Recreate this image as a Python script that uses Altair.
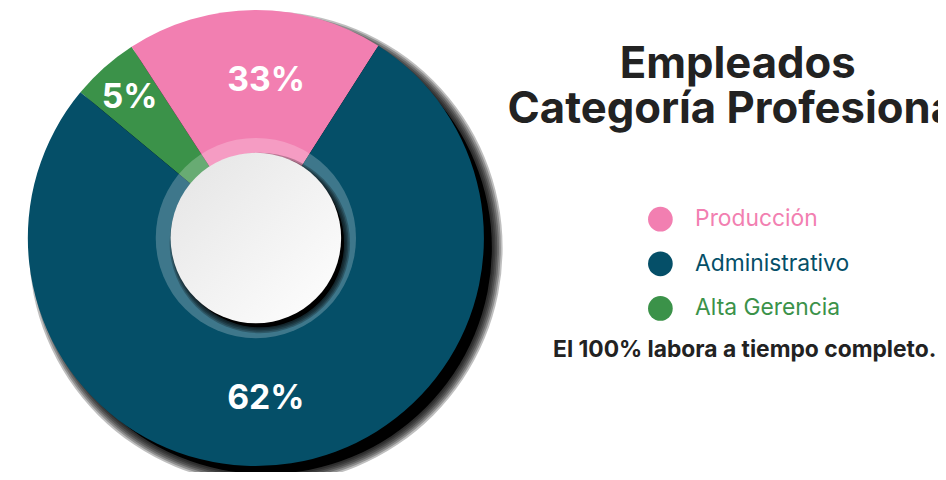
import math
import altair as alt
import pandas as pd

# ---- data ----
categories = ["Producción", "Administrativo", "Alta Gerencia"]      # legend order
colors = ["#F27FB1", "#054F68", "#3B9249"]
slice_order = ["Alta Gerencia", "Producción", "Administrativo"]      # drawing order (clockwise)
slice_shares = [4.8, 18.2, 77.0]                                    # visual share of each slice
slice_labels = ["5%", "33%", "62%"]
title_lines = ["Empleados", "Categoría Profesional"]
footnote = ["El 100% labora a tiempo completo."]

pie = pd.DataFrame({
    "category": slice_order,
    "share": slice_shares,
    "label": slice_labels,
    "ord": list(range(len(slice_order))),
})
legend_df = pd.DataFrame({"category": categories})
one = pd.DataFrame({"a": [0]})

FONT = "Inter"
CX, CY, R = 250, 230, 230
START = math.radians(-50.3)
TAU = 2 * math.pi

theta_scale = alt.Scale(range=[START, START + TAU])
color_scale = alt.Scale(domain=categories, range=colors)


def disc(cx, cy, r, color, opacity=1.0, r0=0):
    return alt.Chart(one).mark_arc(
        x=cx, y=cy, radius=r, radius2=r0, theta=0, theta2=TAU,
        opacity=opacity, strokeWidth=0
    ).encode(color=alt.value(color))


layers = []

# outer drop shadow (soft)
layers.append(disc(CX + 10, CY + 10, 228, "black"))
for k in range(1, 7):
    layers.append(disc(CX + 10, CY + 10, 228 + 1.8 * k, "black", 0.25))

# donut slices
arcs = alt.Chart(pie).mark_arc(x=CX, y=CY, radius=R, strokeWidth=0).encode(
    theta=alt.Theta("share:Q", stack=True, scale=theta_scale),
    order=alt.Order("ord:Q"),
    color=alt.Color("category:N", scale=color_scale, legend=None),
)
layers.append(arcs)

# translucent inner ring
layers.append(disc(CX, CY, 101, "white", 0.23))

# shadow of the white centre disc
layers.append(disc(CX + 4, CY + 5, 85, "black"))
for k in range(1, 5):
    layers.append(disc(CX + 4, CY + 5, 85 + 1.5 * k, "black", 0.25))

# white centre disc with gradient
layers.append(
    alt.Chart(one).mark_arc(
        x=CX, y=CY, radius=86, theta=0, theta2=TAU, strokeWidth=0,
        color=alt.Gradient(
            gradient="linear", x1=0, y1=0, x2=1, y2=1,
            stops=[alt.GradientStop(offset=0, color="#E4E4E4"),
                   alt.GradientStop(offset=1, color="#FFFFFF")],
        ),
    ).encode(opacity=alt.value(1))
)

# percentage labels, one layer per slice so each can be nudged
label_pos = {"Alta Gerencia": (190, -1, 1), "Producción": (160, 11, 2), "Administrativo": (162, -15, 2)}
for cat in slice_order:
    rad, dx, dy = label_pos[cat]
    layers.append(
        alt.Chart(pie).transform_calculate(
            t=f"datum.category == '{cat}' ? datum.label : ''"
        ).mark_text(
            x=CX, y=CY, radius=rad, dx=dx, dy=dy, font=FONT, fontWeight="bold",
            fontSize=34, color="white", baseline="middle", align="center",
        ).encode(
            theta=alt.Theta("share:Q", stack=True, scale=theta_scale),
            order=alt.Order("ord:Q"),
            text="t:N",
        )
    )

# title
title_df = pd.DataFrame({"t": title_lines, "i": [0, 1]})
layers.append(
    alt.Chart(title_df).mark_text(
        font=FONT, fontWeight="bold", fontSize=44, color="#222222",
        align="center", baseline="alphabetic",
    ).encode(
        x=alt.value(736),
        y=alt.Y("i:O", scale=alt.Scale(type="point", domain=[0, 1], range=[69, 114], padding=0), axis=None),
        text="t:N",
    )
)

# legend
legend_y = alt.Y("category:N", scale=alt.Scale(type="point", domain=categories, range=[211, 301], padding=0), axis=None)
layers.append(
    alt.Chart(legend_df).mark_circle(size=620, opacity=1).encode(
        x=alt.value(658), y=legend_y,
        color=alt.Color("category:N", scale=color_scale, legend=None),
    )
)
layers.append(
    alt.Chart(legend_df).mark_text(
        font=FONT, fontSize=23, align="left", baseline="middle",
    ).encode(
        x=alt.value(693), y=legend_y, text="category:N",
        color=alt.Color("category:N", scale=color_scale, legend=None),
    )
)

# footnote
layers.append(
    alt.Chart(pd.DataFrame({"t": footnote})).mark_text(
        font=FONT, fontWeight="bold", fontSize=23, color="#222222",
        align="center", baseline="alphabetic",
    ).encode(x=alt.value(743), y=alt.value(350), text="t:N")
)

chart = alt.layer(*layers).properties(
    width=938, height=464, autosize=alt.AutoSizeParams(type="none"), padding=0,
).resolve_scale(y="independent").configure_view(stroke=None)

chart.save("out.html", embed_options={"renderer": "svg", "actions": False})
